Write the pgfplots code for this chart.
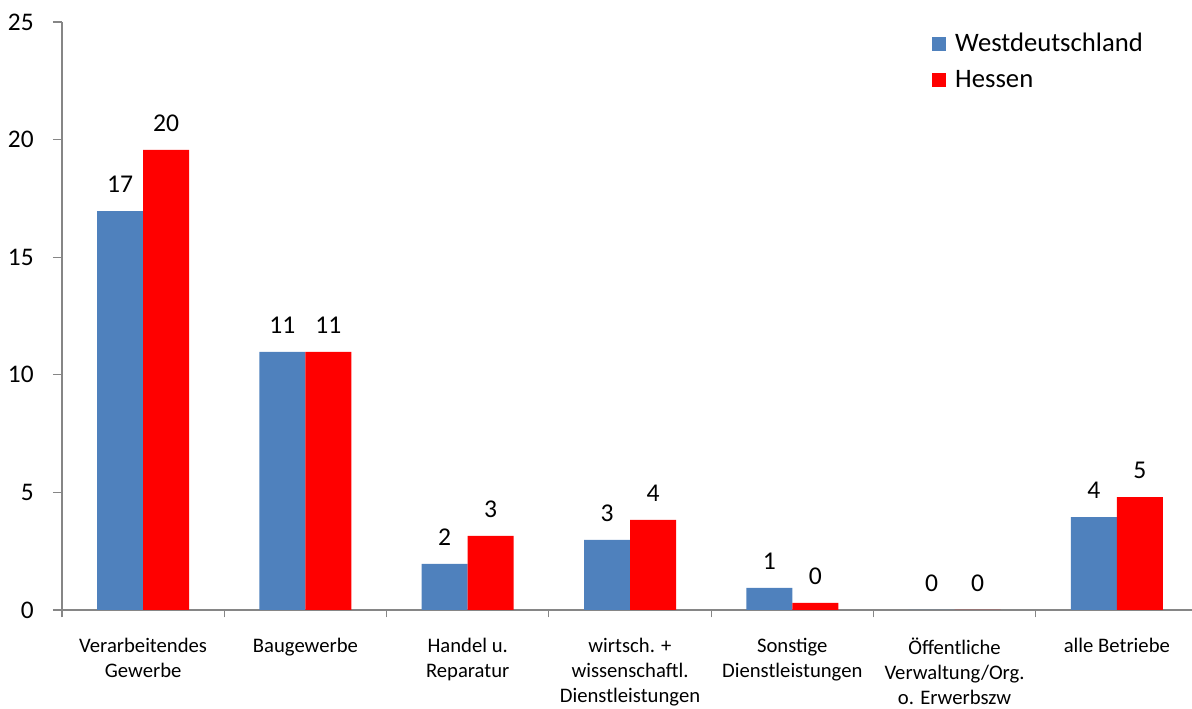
\documentclass[border=0pt]{standalone}
\usepackage{fontspec}
\setmainfont{Carlito}
\usepackage{pgfplots}
\pgfplotsset{compat=1.18}
\definecolor{wdblue}{HTML}{4F81BD}
\definecolor{hered}{HTML}{FF0000}
\definecolor{axgray}{HTML}{868686}
\begin{document}
\begin{tikzpicture}[x=0.75pt,y=0.75pt]
\useasboundingbox (-62,-99) rectangle (1130,610);
\begin{axis}[
  at={(0,0)}, anchor=south west,
  scale only axis,
  width=852pt, height=441pt,
  ybar=0pt, bar width=34.5pt,
  xmin=-0.5, xmax=6.5,
  ymin=0, ymax=25,
  ytick={0,5,...,25},
  xtick={0,...,6},
  xticklabels={{Verarbeitendes\\Gewerbe},{Baugewerbe},{Handel u.\\Reparatur},{wirtsch. +\\wissenschaftl.\\Dienstleistungen},{Sonstige\\Dienstleistungen},{Öffentliche\\Verwaltung/Org.\\o. Erwerbszw},{alle Betriebe}},
  minor xtick={-0.5,0.5,...,6.5},
  major x tick style={draw=none},
  minor x tick style={axgray, line width=0.9pt},
  minor tick length=5.5pt,
  major tick length=6.75pt,
  y tick style={axgray, line width=0.9pt},
  tick align=outside,
  axis x line*=bottom, axis y line*=left,
  axis line style={axgray, line width=1.1pt, -},
  /pgf/number format/assume math mode=true,
  yticklabel style={font=\fontsize{19}{21}\selectfont, xshift=-11pt},
  xticklabel style={font=\fontsize{15.5}{18.75}\selectfont, align=center, anchor=north, yshift=-11pt},
  nodes near coords={\pgfmathprintnumber[fixed,precision=0]{\pgfplotspointmeta}},
  every node near coord/.append style={font=\fontsize{19.2}{21}\selectfont, yshift=10.5pt},
  legend style={draw=none, fill=none, at={(0.762,0.99)}, anchor=north west,
    font=\fontsize{20}{22}\selectfont, row sep=8pt,
    /tikz/every odd column/.append style={column sep=5pt}},
  legend cell align=left,
  legend image code/.code={\fill[#1] (0pt,-5.25pt) rectangle (10.5pt,5.25pt);},
]
\addplot[fill=wdblue, draw=none] coordinates {(0,16.96) (1,10.97) (2,1.96) (3,2.98) (4,0.94) (5,0) (6,3.95)};
\addplot[fill=hered, draw=none] coordinates {(0,19.56) (1,10.97) (2,3.15) (3,3.83) (4,0.30) (5,0) (6,4.80)};
\legend{Westdeutschland, Hessen}
\end{axis}
\end{tikzpicture}
\end{document}
